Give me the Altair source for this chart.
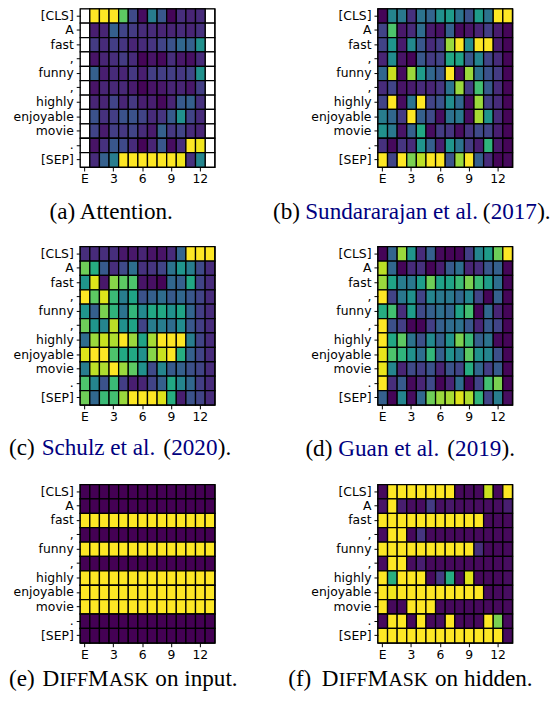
import altair as alt
import pandas as pd

tokens = ["[CLS]", "A", "fast", ",", "funny", ",", "highly", "enjoyable", "movie", ".", "[SEP]"]
x_ticks = [0, 3, 6, 9, 12]
x_labels = ["E", "3", "6", "9", "12"]

N = None
attention = [
    [N, 1, 1, 1, .75, .22, .03, .42, .27, .01, .13, .1, .12, N],
    [N, .08, .1, .3, .2, .17, .12, .12, .1, .1, .12, .1, .14, N],
    [N, .17, .12, .18, .15, .1, .12, .15, .2, .25, .33, .3, .5, N],
    [N, .05, .1, .13, .17, .12, .01, .05, .02, .13, .06, .04, .12, N],
    [N, .3, .08, .12, .1, .16, .08, .18, .18, .18, .16, .2, .5, N],
    [N, .05, .1, .11, .11, .07, .01, .05, .06, .1, .1, .06, .18, N],
    [N, .1, .1, .2, .1, .16, .08, .08, .02, .1, .28, .3, .14, N],
    [N, .25, .14, .18, .25, .25, .2, .12, .15, .28, .5, .2, .12, N],
    [N, .2, .07, .18, .16, .2, .12, .07, .3, .16, .2, .12, .1, N],
    [N, .05, .14, .27, .22, .12, .01, .1, .27, .03, .13, 1, .98, N],
    [N, .12, .3, .42, 1, 1, 1, 1, 1, 1, .98, .14, .45, N],
]
sundararajan = [
    [.01, .45, .4, .14, .38, .32, .5, .55, .38, .25, .55, .38, 1, 1],
    [.2, .72, .06, .12, .35, .07, .04, .3, .02, .05, .1, .18, .07, .01],
    [.2, .52, .07, .47, .27, .12, .18, .85, 1, .48, 1, 1, .07, .01],
    [.1, .48, .05, .01, .27, .17, .2, .6, .58, .27, .45, .2, .12, .01],
    [.33, .92, .03, .85, .55, .33, .27, 1, .03, .85, .37, .25, .17, .01],
    [.12, .2, .05, .07, .12, .1, .15, .38, .85, .17, .7, .28, .12, .01],
    [.2, 1, .03, .38, 1, .2, .25, .48, .33, .03, .85, .18, .12, .01],
    [.42, .33, .17, 1, .3, .22, .03, .37, .4, .03, .87, .52, .12, .01],
    [.5, .4, .05, .3, .6, .03, .17, .15, .03, .15, .22, .2, .08, .01],
    [.14, .02, .15, .12, .52, .3, .08, .52, .38, .17, .08, .65, .06, .01],
    [1, .2, 1, .8, .9, 1, 1, .25, .85, 1, .3, .12, .01, .02],
]
schulz = [
    [.13, .12, .13, .13, .06, .06, .1, .05, .05, .12, .32, 1, 1, 1],
    [.78, .62, .28, .13, .22, .36, .14, .15, .2, .38, .52, .42, .22, .12],
    [.52, .95, .06, .82, .75, .72, .05, .04, .01, .33, .3, .6, .2, .12],
    [1, .75, .95, .68, .42, .58, .25, .3, .35, .28, .33, .27, .2, .12],
    [.52, .3, .8, .65, .38, .66, .47, .6, .6, .5, .58, .32, .18, .12],
    [.78, .52, .45, .9, .5, .58, .2, .42, .42, .35, .48, .27, .18, .12],
    [.35, .85, .92, .88, 1, .85, .58, .87, 1, 1, 1, .42, .2, .12],
    [.95, 1, 1, .72, .6, .6, .5, .82, .92, 1, .62, .3, .2, .12],
    [.42, .9, .88, 1, .85, .75, .5, .22, .45, .28, .3, .24, .2, .12],
    [.72, .45, .25, .68, .18, .08, .1, .2, .3, .6, .45, .33, .18, .12],
    [.78, .33, .68, .7, .85, 1, 1, 1, .95, .62, .08, .25, .2, .12],
]
guan = [
    [.01, .32, .85, .52, .12, .3, .02, .01, .01, .18, .45, .55, .78, 1],
    [.9, .33, .01, .12, .14, .01, .08, .28, .36, .1, .13, .27, .3, .01],
    [.85, .58, .42, .4, .55, .78, .57, .58, .68, .8, .68, .55, .36, .01],
    [1, .2, .4, .5, .2, .45, .4, .4, .33, .45, .2, .01, .3, .01],
    [.62, .7, .13, .55, .22, .3, .36, .32, .58, .7, .01, .33, .1, .01],
    [1, .24, .18, .01, .01, .18, .3, .35, .37, .27, .1, .28, .2, .01],
    [1, .6, .75, .38, .24, .47, .3, .5, .8, .68, .3, .38, .02, .01],
    [.97, .72, .65, .5, .36, .66, .3, .5, .42, .75, .5, .45, .24, .01],
    [.97, .45, .1, .22, .18, .25, .1, .25, .2, .62, .33, .18, .28, .01],
    [1, .13, .28, .02, .1, .22, .01, .1, .35, .01, .2, .7, .8, .01],
    [.3, .01, .45, .03, .33, .78, .85, .87, .95, .88, .65, .2, .42, .03],
]
diff_input_rows = [0, 0, 1, 0, 1, 0, 1, 1, 1, 0, 0]
diff_input = [[v] * 14 for v in diff_input_rows]
diff_hidden = [
    [.02, 1, 1, 1, 1, 1, 1, 1, .02, .02, .02, .92, .02, 1],
    [.05, 1, .08, .03, .03, .17, .04, .06, .03, .03, .03, .03, .03, .08],
    [1, 1, 1, 1, 1, 1, 1, 1, 1, 1, 1, .02, .02, .02],
    [.03, 1, 1, .02, .15, .02, .02, .02, .02, .02, .02, .02, .02, .02],
    [1, 1, 1, 1, 1, 1, 1, 1, 1, 1, .13, .02, .02, .02],
    [.03, 1, 1, .03, .08, .02, .02, .02, .02, .02, .02, .02, .02, .03],
    [1, .63, 1, 1, 1, .02, .16, .62, .02, .95, .02, .02, .02, .03],
    [1, .98, 1, 1, 1, 1, 1, 1, 1, 1, 1, .02, .02, .03],
    [1, .02, .02, 1, 1, 1, .02, .02, .02, .02, .02, .02, .02, .02],
    [.02, 1, 1, .02, 1, .02, .04, 1, .02, .02, .02, 1, .8, .02],
    [1, 1, 1, 1, 1, 1, 1, 1, 1, 1, 1, 1, 1, .02],
]

BLACK, NAVY = "#000000", "#000080"
BIG, SMALL = 23.4, 20
# caption pieces: text, colour, size, start x on the page
captions = [
    [("(a) Attention.", BLACK, BIG, 49)],
    [("(b)", BLACK, BIG, 274), ("Sundararajan et al.", NAVY, BIG, 306.5), ("(", BLACK, BIG, 486),
     ("2017", NAVY, BIG, 494), (").", BLACK, BIG, 541)],
    [("(c)", BLACK, BIG, 8), ("Schulz et al.", NAVY, BIG, 41), ("(", BLACK, BIG, 164),
     ("2020", NAVY, BIG, 172), (").", BLACK, BIG, 219)],
    [("(d)", BLACK, BIG, 306.7), ("Guan et al.", NAVY, BIG, 340), ("(", BLACK, BIG, 450),
     ("2019", NAVY, BIG, 458), (").", BLACK, BIG, 505)],
    [("(e)", BLACK, BIG, 8), ("D", BLACK, BIG, 42), ("IFF", BLACK, SMALL, 59), ("M", BLACK, BIG, 88),
     ("ASK", BLACK, SMALL, 109), ("on input.", BLACK, BIG, 156)],
    [("(f)", BLACK, BIG, 289.3), ("D", BLACK, BIG, 323.3), ("IFF", BLACK, SMALL, 340.5), ("M", BLACK, BIG, 369.5),
     ("ASK", BLACK, SMALL, 390.6), ("on hidden.", BLACK, BIG, 437.7)],
]
matrices = [attention, sundararajan, schulz, guan, diff_input, diff_hidden]
plot_lefts = [80, 380] * 3
plot_tops = [6, 6, 245, 245, 484, 484]
baselines = [219, 219, 456, 457, 688, 688]
W, H = 136, 160

label_expr = "{}[datum.value]".format(tokens)
x_label_expr = "{" + ",".join(f"'{k}':'{v}'" for k, v in zip(x_ticks, x_labels)) + "}[datum.value]"


def panel(matrix, pieces, left, top, baseline):
    df = pd.DataFrame(
        [{"row": r, "col": c, "v": v} for r, row in enumerate(matrix) for c, v in enumerate(row)]
    )
    x = alt.X("col:O", scale=alt.Scale(domain=list(range(14)), paddingInner=0, paddingOuter=0),
              axis=alt.Axis(values=x_ticks, labelExpr=x_label_expr, labelAngle=0, title=None, labelPadding=2))
    y = alt.Y("row:O", scale=alt.Scale(domain=list(range(len(tokens))), paddingInner=0, paddingOuter=0),
              axis=alt.Axis(labelExpr=label_expr, title=None))
    base = alt.Chart(df).mark_rect(fill="white", stroke="black", strokeWidth=1.3).encode(x=x, y=y)
    heat = (
        alt.Chart(df)
        .transform_filter("isValid(datum.v) && isFinite(datum.v)")
        .mark_rect(stroke="black", strokeWidth=1.3)
        .encode(
            x=x, y=y,
            color=alt.Color("v:Q", scale=alt.Scale(scheme="viridis", domain=[0, 1]), legend=None),
        )
    )
    layers = [base, heat]
    for text, colour, size, px in pieces:
        layers.append(
            alt.Chart(pd.DataFrame({"t": [text]}))
            .mark_text(font="Liberation Serif", fontSize=size, color=colour, align="left", baseline="alphabetic")
            .encode(x=alt.value(px - left), y=alt.value(baseline - top), text="t:N")
        )
    return alt.layer(*layers).properties(width=W, height=H)


panels = [panel(m, c, l, t, b) for m, c, l, t, b in zip(matrices, captions, plot_lefts, plot_tops, baselines)]

chart = (
    alt.concat(*panels, columns=2, spacing=alt.RowColnumber(row=80.5, column=165), bounds="flush")
    .properties(padding={"left": 0, "top": -5, "right": 0, "bottom": -1}, background="white")
    .configure_view(stroke="black", strokeWidth=1.2)
    .configure_axis(
        grid=False, domain=False, tickColor="black", tickSize=4, tickWidth=1,
        labelFont="DejaVu Sans", labelFontSize=12.5, labelColor="black", labelPadding=3,
        labelOverlap=False,
    )
)
chart.save("out.html", embed_options={"renderer": "svg", "actions": False})
